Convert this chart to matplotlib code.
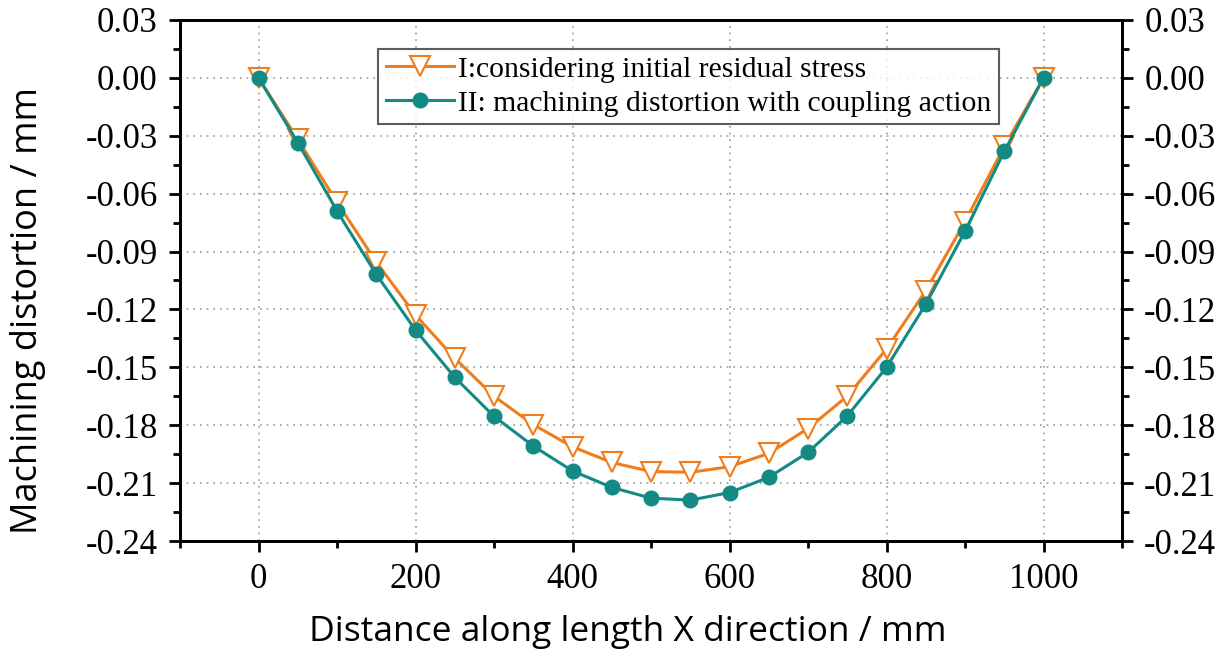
import matplotlib
matplotlib.use("Agg")
import matplotlib.pyplot as plt
from matplotlib.ticker import MultipleLocator, FixedLocator

x_mm = [0, 50, 100, 150, 200, 250, 300, 350, 400, 450, 500,
        550, 600, 650, 700, 750, 800, 850, 900, 950, 1000]
series_I = [0.0, -0.0318, -0.0645, -0.0954, -0.1229, -0.1453, -0.165, -0.1797, -0.1912, -0.1993, -0.204,
            -0.2044, -0.2015, -0.1946, -0.1817, -0.1649, -0.1405, -0.1103, -0.0745, -0.0355, 0.0]
series_II = [0.0, -0.0335, -0.069, -0.1018, -0.1307, -0.1552, -0.1754, -0.1908, -0.2037, -0.2122, -0.2178,
             -0.2188, -0.2149, -0.207, -0.1941, -0.1752, -0.150, -0.1173, -0.0795, -0.0381, 0.0]
label_I = "I:considering initial residual stress"
label_II = "II: machining distortion with coupling action"
y_ticks = [0.03, 0.00, -0.03, -0.06, -0.09, -0.12, -0.15, -0.18, -0.21, -0.24]
x_ticks = [0, 200, 400, 600, 800, 1000]

orange = "#F07D1C"
teal = "#138A84"
serif = ["Liberation Serif", "DejaVu Serif"]
sans = ["Open Sans", "DejaVu Sans"]

fig = plt.figure(figsize=(12.28, 6.53), dpi=100)
ax = fig.add_axes([0.1466, 0.1715, 0.9137 - 0.1466, 0.9694 - 0.1715])

ax.plot(x_mm, series_I, color=orange, lw=2.2, marker="v", markersize=14,
        markerfacecolor="white", markeredgecolor=orange, markeredgewidth=1.5,
        label=label_I, zorder=3)
ax.plot(x_mm, series_II, color=teal, lw=2.2, marker="o", markersize=10.5,
        markerfacecolor=teal, markeredgecolor=teal, label=label_II, zorder=4)

ax.set_xlim(-100, 1100)
ax.set_ylim(-0.24, 0.03)
ax.xaxis.set_major_locator(FixedLocator(x_ticks))
ax.xaxis.set_minor_locator(MultipleLocator(100))
ax.yaxis.set_major_locator(FixedLocator(y_ticks))
ax.yaxis.set_minor_locator(MultipleLocator(0.015))
ax.set_yticklabels([f"{v:.2f}" for v in y_ticks])
ax.set_xticklabels([str(v) for v in x_ticks])

ax.grid(True, which="major", color="#9a9a9a", linestyle=(0, (1, 3)), linewidth=1.2)
for s in ax.spines.values():
    s.set_linewidth(2.0)
ax.tick_params(which="major", direction="out", length=8, width=2, labelsize=25, pad=8)
ax.tick_params(which="minor", direction="out", length=5, width=2)
for lab in ax.get_xticklabels() + ax.get_yticklabels():
    lab.set_family(serif)

ax2 = ax.twinx()
ax2.set_ylim(-0.24, 0.03)
ax2.yaxis.set_major_locator(FixedLocator(y_ticks))
ax2.yaxis.set_minor_locator(MultipleLocator(0.015))
ax2.set_yticklabels([f"{v:.2f}" for v in y_ticks])
ax2.tick_params(which="major", direction="out", length=8, width=2, labelsize=25, pad=8)
ax2.tick_params(which="minor", direction="out", length=5, width=2)
for lab in ax2.get_yticklabels():
    lab.set_family(serif)
for s in ax2.spines.values():
    s.set_linewidth(2.0)

leg = ax.legend(loc="upper left", bbox_to_anchor=(0.2105, 0.945), prop={"family": serif, "size": 21.3},
                frameon=True, fancybox=False, edgecolor="#333333", handlelength=2.3,
                handletextpad=0.15, borderpad=0.25, labelspacing=0.25, borderaxespad=0)
leg.get_frame().set_linewidth(1.5)

fig.text(0.511, 0.032, "Distance along length X direction / mm", ha="center", va="center",
         fontsize=25.5, family=sans)
fig.text(0.023, 0.524, "Machining distortion / mm", ha="center", va="center", rotation=90,
         fontsize=26, family=sans)

fig.savefig("out.png", dpi=100)
